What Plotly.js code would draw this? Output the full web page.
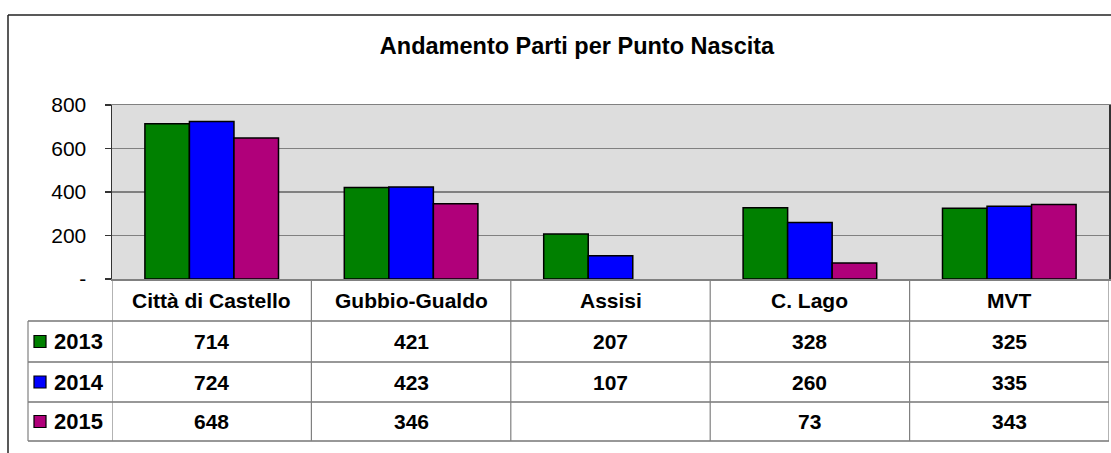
<!DOCTYPE html>
<html>
<head>
<meta charset="utf-8">
<script src="https://cdn.plot.ly/plotly-3.0.1.min.js"></script>
<style>
  body { margin: 0; background: #fff; }
  #chart { width: 1111px; height: 453px; }
</style>
</head>
<body>
<div id="chart"></div>
<script>
const categories = ['Città di Castello', 'Gubbio-Gualdo', 'Assisi', 'C. Lago', 'MVT'];
const years = ['2013', '2014', '2015'];
const v2013 = [714, 421, 207, 328, 325];
const v2014 = [724, 423, 107, 260, 335];
const v2015 = [648, 346, null, 73, 343];
const yTicks = [0, 200, 400, 600, 800];
const yTickText = ['-', '200', '400', '600', '800'];

const series = [v2013, v2014, v2015];
const colors = ['#008000', '#0000FF', '#B0007A'];

// plot area in pixels: x 112..1109, y 105..279
const L = 112, R = 1109, T = 105, B = 279;
const px = p => (p - L) / (R - L);
const py = p => (B - p) / (B - T);

const font = 'Arial, "Liberation Sans", sans-serif';

const data = series.map((vals, i) => ({
    x: categories,
    y: vals,
    name: years[i],
    type: 'bar',
    marker: {color: colors[i], line: {color: '#000', width: 1.5}},
    hoverinfo: 'x+y+name'
}));

const rowTop = [279, 321, 362, 402, 441];
const shapes = [];
const annotations = [];

// outer chart frame
shapes.push({type: 'line', xref: 'paper', yref: 'paper', x0: px(8), x1: px(1115), y0: py(15), y1: py(15), line: {color: '#222', width: 1.5}});
shapes.push({type: 'line', xref: 'paper', yref: 'paper', x0: px(8), x1: px(8), y0: py(15), y1: py(460), line: {color: '#222', width: 1.5}});

// table horizontal lines
for (let r = 1; r < rowTop.length; r++) {
    shapes.push({type: 'line', xref: 'paper', yref: 'paper', x0: px(28), x1: px(R), y0: py(rowTop[r]), y1: py(rowTop[r]), line: {color: '#333', width: 1.2}});
}
// table vertical lines
shapes.push({type: 'line', xref: 'paper', yref: 'paper', x0: px(28), x1: px(28), y0: py(rowTop[1]), y1: py(rowTop[4]), line: {color: '#808080', width: 1.2}});
for (let c = 0; c <= categories.length; c++) {
    shapes.push({type: 'line', xref: 'x', yref: 'paper', x0: c - 0.5, x1: c - 0.5, y0: py(rowTop[0]), y1: py(rowTop[4]), line: {color: '#808080', width: 1.2}});
}

// header row with category names
categories.forEach(cat => {
    annotations.push({xref: 'x', yref: 'paper', x: cat, y: py((rowTop[0] + rowTop[1]) / 2), xanchor: 'center', yanchor: 'middle',
        text: '<b>' + cat + '</b>', showarrow: false, font: {family: font, size: 21, color: '#000'}});
});

// value rows with legend keys
series.forEach((vals, i) => {
    const cy = (rowTop[i + 1] + rowTop[i + 2]) / 2;
    const yc = py(cy);
    shapes.push({type: 'rect', xref: 'paper', yref: 'paper', x0: px(34), x1: px(46), y0: py(cy - 6), y1: py(cy + 6), fillcolor: colors[i], line: {color: '#000', width: 1.2}});
    annotations.push({xref: 'paper', yref: 'paper', x: px(52), y: yc, xanchor: 'left', yanchor: 'middle',
        text: '<b>' + years[i] + '</b>', showarrow: false, font: {family: font, size: 22, color: '#000'}});
    vals.forEach((v, j) => {
        if (v === null) return;
        annotations.push({xref: 'x', yref: 'paper', x: categories[j], y: yc, xanchor: 'center', yanchor: 'middle',
            text: '<b>' + v + '</b>', showarrow: false, font: {family: font, size: 21, color: '#000'}});
    });
});

const layout = {
    width: 1111,
    height: 453,
    margin: {l: L, r: 1111 - R, t: T, b: 453 - B},
    paper_bgcolor: '#fff',
    plot_bgcolor: '#DDDDDD',
    title: {
        text: '<b>Andamento Parti per Punto Nascita</b>',
        x: 577 / 1111, xref: 'container', xanchor: 'center', y: 1 - 46 / 453, yref: 'container', yanchor: 'middle',
        font: {family: font, size: 23.5, color: '#000'}
    },
    showlegend: false,
    barmode: 'group',
    bargap: 0.33,
    bargroupgap: 0,
    xaxis: {
        type: 'category',
        range: [-0.5, categories.length - 0.5],
        showticklabels: false,
        ticks: '',
        showgrid: false,
        showline: true, linecolor: '#808080', linewidth: 1.5, mirror: true,
        zeroline: false
    },
    yaxis: {
        range: [0, 800],
        tickvals: yTicks,
        ticktext: yTickText,
        ticks: 'outside', ticklen: 6, tickcolor: '#333', tickwidth: 1.2,
        ticklabelstandoff: 14,
        tickfont: {family: font, size: 21, color: '#000'},
        showgrid: true, gridcolor: '#808080', gridwidth: 1.2,
        showline: true, linecolor: '#333', linewidth: 1.5, mirror: true,
        zeroline: false
    },
    shapes: shapes,
    annotations: annotations
};

Plotly.newPlot('chart', data, layout, {displayModeBar: false, staticPlot: true});
</script>
</body>
</html>
